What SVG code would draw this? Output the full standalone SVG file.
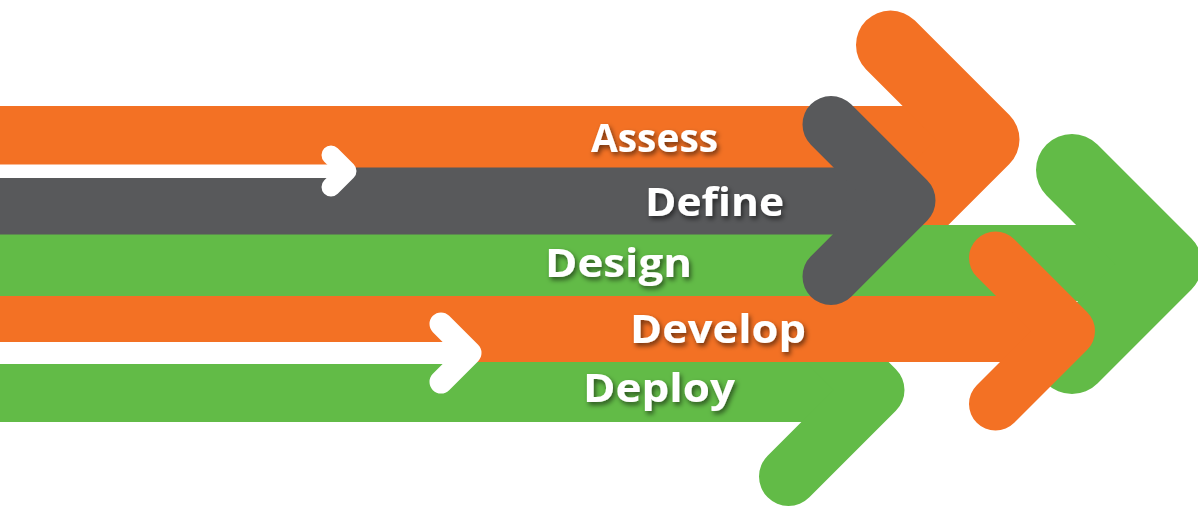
<svg xmlns="http://www.w3.org/2000/svg" width="1198" height="506" viewBox="0 0 1198 506">
<defs>
<filter id="sh" x="-20%" y="-40%" width="140%" height="180%">
<feDropShadow dx="2" dy="3" stdDeviation="2.5" flood-color="#000" flood-opacity="0.55"/>
</filter>
<style>
.o{fill:#F37124}.os{stroke:#F37124}
.g{fill:#62BB47}.gs{stroke:#62BB47}
.k{fill:#58595B}.ks{stroke:#58595B}
.w{fill:#FFFFFF}.ws{stroke:#FFFFFF}
.chev{fill:none;stroke-linecap:round;stroke-linejoin:round}
.lbl{font-family:"Open Sans","Liberation Sans",sans-serif;font-weight:bold;font-size:40px;fill:#FFFFFF;filter:url(#sh)}
</style>
</defs>
<rect width="1198" height="506" fill="#FFFFFF"/>
<g id="assess">
<rect class="o" x="0" y="106" width="985" height="66.5"/>
<path class="chev os" stroke-width="69" d="M890.5,45 L985,139.5 L890.5,234"/>
<text class="lbl" x="591" y="152" textLength="127" lengthAdjust="spacingAndGlyphs">Assess</text>
</g>
<g id="deploy">
<rect class="g" x="0" y="358" width="875" height="64"/>
<path class="chev gs" stroke-width="59" d="M788.5,303.5 L875,390 L788.5,476.5"/>
<text class="lbl" x="583" y="402" textLength="152" lengthAdjust="spacingAndGlyphs">Deploy</text>
</g>
<g id="design">
<rect class="g" x="0" y="225" width="1166" height="76"/>
<path class="chev gs" stroke-width="72" d="M1072,170 L1166,264 L1072,358"/>
<text class="lbl" x="545" y="277" textLength="147" lengthAdjust="spacingAndGlyphs">Design</text>
</g>
<g id="develop">
<rect class="o" x="0" y="296" width="1068" height="66"/>
<path class="chev os" stroke-width="53" d="M995.5,258 L1068.5,331 L995.5,404"/>
<text class="lbl" x="630" y="343" textLength="176" lengthAdjust="spacingAndGlyphs">Develop</text>
</g>
<g id="define">
<rect class="k" x="0" y="167.5" width="907" height="67"/>
<path class="chev ks" stroke-width="57" d="M831,124.5 L907,200.5 L831,276.5"/>
<text class="lbl" x="645" y="216" textLength="139" lengthAdjust="spacingAndGlyphs">Define</text>
</g>
<g id="connectors">
<g id="flow-arrow-upper">
<rect class="w" x="0" y="164.5" width="347" height="13.5"/>
<path class="chev ws" stroke-width="19" d="M331,155 L347,171 L331,187"/>
</g>
<g id="flow-arrow-lower">
<rect class="w" x="0" y="342" width="467" height="22"/>
<path class="chev ws" stroke-width="23" d="M441,324 L470,353 L441,382"/>
</g>
</g>
</svg>
